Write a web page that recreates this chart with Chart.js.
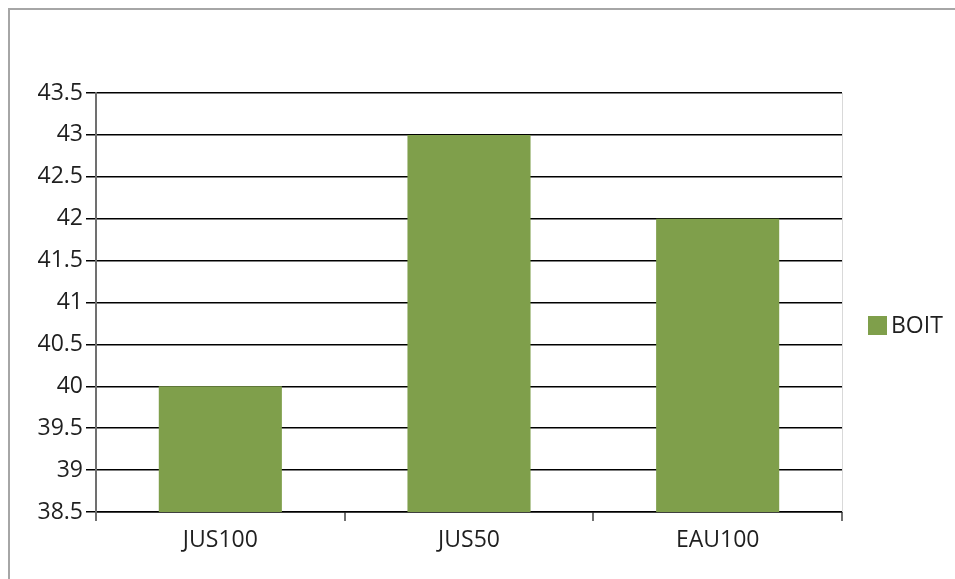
<!DOCTYPE html>
<html lang="fr">
<head>
   <meta charset="UTF-8">
   <title>BOIT</title>
   <style>
      body {
         margin: 0;
         background-color: #ffffff;
      }

      #chartBox {
         width: 955px;
         height: 579px;
      }
   </style>
</head>
<body>
   <div id="chartBox"><canvas id="myChart"></canvas></div>

   <script src="https://cdn.jsdelivr.net/npm/chart.js"></script>
   <script>
      // chart data
      const categories = ['JUS100', 'JUS50', 'EAU100'];
      const seriesName = 'BOIT';
      const boitValues = [40, 43, 42];
      const yTicks = [38.5, 39, 39.5, 40, 40.5, 41, 41.5, 42, 42.5, 43, 43.5];

      const barColor = '#7f9f4b';
      const textColor = '#1f1f1f';
      const fontFamily = '"Open Sans", "Noto Sans", sans-serif';

      // outer frame, plot-area right edge and the legend on the right
      const decorPlugin = {
         id: 'decor',
         beforeDraw(chart) {
            const c = chart.ctx;
            c.save();
            c.strokeStyle = '#a6a6a6';
            c.lineWidth = 2;
            c.strokeRect(9, 9, 3000, 3000);
            c.restore();
         },
         afterDraw(chart) {
            const c = chart.ctx;
            const area = chart.chartArea;
            c.save();
            c.strokeStyle = '#d9d9d9';
            c.lineWidth = 1;
            c.beginPath();
            c.moveTo(Math.round(area.right) + 0.5, area.top);
            c.lineTo(Math.round(area.right) + 0.5, area.bottom);
            c.stroke();

            // legend
            const ds = chart.data.datasets[0];
            const boxX = area.right + 26;
            const boxY = 316;
            c.fillStyle = ds.backgroundColor;
            c.fillRect(boxX, boxY, 19, 19);
            c.fillStyle = textColor;
            c.font = '23px ' + fontFamily;
            c.textAlign = 'left';
            c.textBaseline = 'middle';
            c.fillText(ds.label, boxX + 23, boxY + 10);
            c.restore();
         }
      };

      const ctx = document.getElementById('myChart').getContext('2d');

      const myChart = new Chart(ctx, {
         type: 'bar',
         data: {
            labels: categories,
            datasets: [{
               label: seriesName,
               data: boitValues,
               backgroundColor: barColor,
               borderWidth: 0,
               categoryPercentage: 1,
               barPercentage: 0.495
            }]
         },
         options: {
            responsive: true,
            maintainAspectRatio: false,
            animation: false,
            layout: {
               padding: { left: 0, top: 93, right: 113, bottom: 0 }
            },
            scales: {
               x: {
                  afterFit(scale) { scale.height = 67; },
                  grid: {
                     drawOnChartArea: false,
                     drawTicks: true,
                     tickLength: 9,
                     color: '#707070',
                     lineWidth: 2
                  },
                  border: {
                     display: true,
                     color: '#000000',
                     width: 1.5
                  },
                  ticks: {
                     color: textColor,
                     padding: 6,
                     font: { family: fontFamily, size: 23 }
                  }
               },
               y: {
                  min: yTicks[0],
                  max: yTicks[yTicks.length - 1],
                  afterFit(scale) { scale.width = 96; },
                  afterBuildTicks(scale) {
                     scale.ticks = yTicks.map(v => ({ value: v }));
                  },
                  grid: {
                     color: '#000000',
                     lineWidth: 1.5,
                     tickLength: 10
                  },
                  border: {
                     display: true,
                     color: '#707070',
                     width: 2
                  },
                  ticks: {
                     color: textColor,
                     padding: 3,
                     font: { family: fontFamily, size: 23 },
                     callback: function(value) { return String(value); }
                  }
               }
            },
            plugins: {
               legend: { display: false },
               tooltip: { enabled: false }
            }
         },
         plugins: [decorPlugin]
      });
   </script>
</body>
</html>
